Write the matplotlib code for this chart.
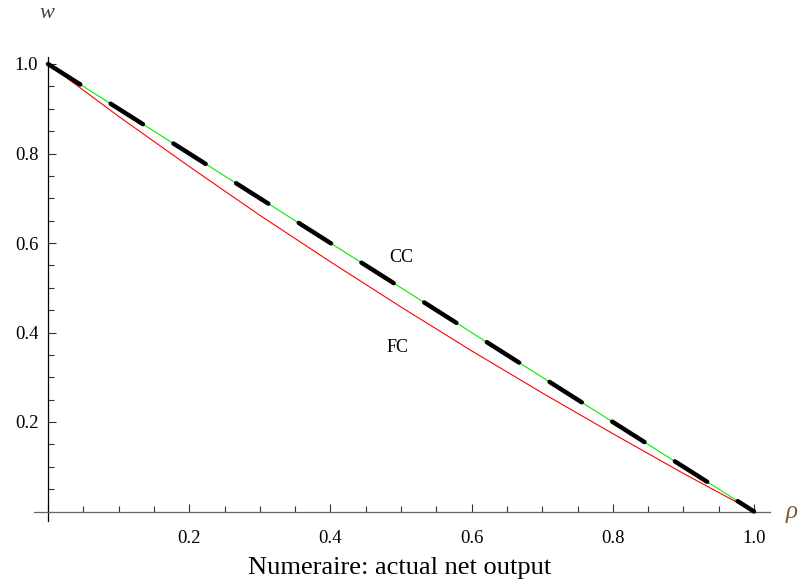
import matplotlib
matplotlib.use("Agg")
import matplotlib.pyplot as plt
from matplotlib.ticker import MultipleLocator, FixedLocator

# Data
rho = [0.0, 0.1, 0.2, 0.3, 0.4, 0.5, 0.6, 0.7, 0.8, 0.9, 1.0]
w_cc = [1.0, 0.9, 0.8, 0.7, 0.6, 0.5, 0.4, 0.3, 0.2, 0.1, 0.0]
w_fc = [1.0, 0.883, 0.771, 0.662, 0.558, 0.457, 0.359, 0.265, 0.174, 0.085, 0.0]
w_dash = [1.0, 0.9, 0.8, 0.7, 0.6, 0.5, 0.4, 0.3, 0.2, 0.1, 0.0]
tick_vals = [0.2, 0.4, 0.6, 0.8, 1.0]
tick_labels = ["0.2", "0.4", "0.6", "0.8", "1.0"]

W, H = 810, 586
fig = plt.figure(figsize=(W / 100, H / 100), dpi=100)
left, right, bot, top = 34, 770, 521, 57
ax = fig.add_axes([left / W, 1 - bot / H, (right - left) / W, (bot - top) / H])

x0, x1 = 48, 754
y0, ysc = 511.5, 447.5
ax.set_xlim((left - x0) / (x1 - x0), (right - x0) / (x1 - x0))
ax.set_ylim((y0 - bot) / ysc, (y0 - top) / ysc)

ax.plot(rho, w_fc, color="#ff0000", lw=0.8, zorder=2)
ax.plot(rho, w_cc, color="#00ee00", lw=0.8, zorder=3)
ax.plot(rho, w_dash, color="black", lw=3.2, linestyle=(0, (8.6, 8.1)),
        dash_capstyle="round", zorder=4)

for s in ["top", "right"]:
    ax.spines[s].set_visible(False)
ax.spines["left"].set_position(("data", 0))
ax.spines["bottom"].set_position(("data", 0))
ax.spines["left"].set_color("black")
ax.spines["bottom"].set_color("#666666")
ax.spines["left"].set_linewidth(0.9)
ax.spines["bottom"].set_linewidth(0.9)

ax.xaxis.set_major_locator(FixedLocator(tick_vals))
ax.yaxis.set_major_locator(FixedLocator(tick_vals))
ax.set_xticklabels(tick_labels)
ax.set_yticklabels(tick_labels)
ax.xaxis.set_minor_locator(MultipleLocator(0.05))
ax.yaxis.set_minor_locator(MultipleLocator(0.05))
ax.tick_params(which="major", direction="in", length=6, width=0.8, color="#333333",
               labelsize=13.5, pad=13)
ax.tick_params(which="minor", direction="in", length=4, width=0.8, color="#333333")
ax.tick_params(axis="y", which="major", pad=7)
for lab in ax.get_xticklabels() + ax.get_yticklabels():
    lab.set_fontfamily("Liberation Serif")
ax.patch.set_visible(False)

serif = "Liberation Serif"
fig.text(47 / W, 1 - 14 / H, "w", fontsize=16, style="italic", family=serif,
         color="#4a3a5a", ha="center", va="center")
fig.text(792 / W, 1 - 512 / H, "ρ", fontsize=18, style="italic", family=serif,
         color="#7a5a30", ha="center", va="center")
fig.text(401 / W, 1 - 258 / H, "CC", fontsize=13, family=serif, ha="center", va="center")
fig.text(398 / W, 1 - 347 / H, "FC", fontsize=13, family=serif, ha="center", va="center")
fig.text(400 / W, 1 - 568 / H, "Numeraire: actual net output", fontsize=19,
         family=serif, ha="center", va="center")

fig.savefig("out.png", dpi=100)
